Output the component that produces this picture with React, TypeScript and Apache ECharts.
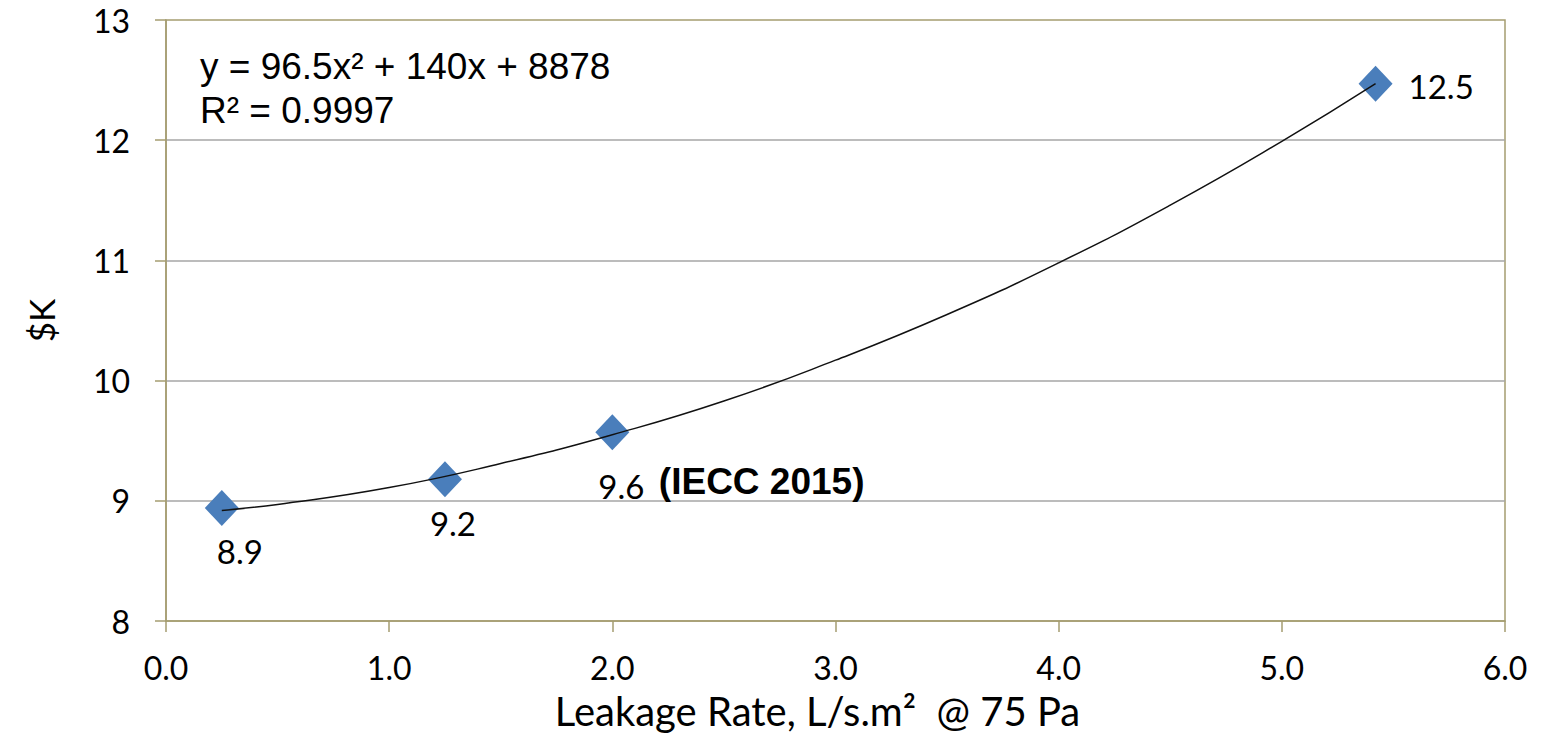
import React, { useEffect, useRef } from "react";
import * as echarts from "echarts";

const leakage = [0.25, 1.25, 2.0, 5.42];
const costK = [8.94, 9.18, 9.57, 12.47];
const pointLabels = ["8.9", "9.2", "9.6", "12.5"];
const trendX = [0.25, 0.5, 1.0, 1.5, 2.0, 2.5, 3.0, 3.5, 4.0, 4.5, 5.0, 5.42];
const trendY = [8.92, 8.97, 9.11, 9.31, 9.55, 9.83, 10.17, 10.55, 10.98, 11.46, 11.99, 12.47];
const equationLines = ["y = 96.5x² + 140x + 8878", "R² = 0.9997"];
const xTitle = "Leakage Rate, L/s.m²  @ 75 Pa";
const yTitle = "$K";

const OLIVE = "#A59D70";
const GRID = "#A6A6A6";
const BLUE = "#4A7EBB";
const LBL = "Lato, 'Open Sans', sans-serif";

export default function App() {
  const ref = useRef<HTMLDivElement>(null);
  useEffect(() => {
    if (!ref.current) return;
    const chart = echarts.init(ref.current, null, { renderer: "svg" });
    const labelCfg = [
      { position: "bottom", distance: 8, offset: [18, 0] },
      { position: "bottom", distance: 9, offset: [8, 0] },
      { position: "bottom", distance: 13, offset: [-14, 0], rich: true },
      { position: "right", distance: 16, offset: [0, 2] },
    ];
    const scatterData = leakage.map((x, i) => {
      const c: any = labelCfg[i];
      const label: any = {
        show: true,
        position: c.position,
        distance: c.distance,
        offset: c.offset,
        fontFamily: LBL,
        fontSize: 33,
        color: "#000",
        opacity: 1,
      };
      if (c.rich) {
        label.align = "left";
        label.formatter = "{a|" + pointLabels[i] + "} {b|(IECC 2015)}";
        label.rich = {
          a: { fontFamily: LBL, fontSize: 33, color: "#000" },
          b: {
            fontFamily: "'Liberation Sans', Arial, sans-serif",
            fontWeight: "bold",
            fontSize: 37,
            color: "#000",
            padding: [0, 0, 8, 6],
          },
        };
      } else {
        label.formatter = pointLabels[i];
      }
      return { value: [x, costK[i]], label };
    });
    chart.setOption({
      animation: false,
      backgroundColor: "#fff",
      grid: { left: 166, right: 36, top: 20, bottom: 125, show: true, borderColor: OLIVE, borderWidth: 1.5 },
      xAxis: {
        type: "value",
        min: 0,
        max: 6,
        interval: 1,
        axisLine: { show: true, lineStyle: { color: OLIVE, width: 1.5 } },
        axisTick: { show: true, length: 11, lineStyle: { color: OLIVE, width: 1.5 } },
        splitLine: { show: false },
        axisLabel: {
          formatter: (v: number) => v.toFixed(1),
          fontFamily: LBL,
          fontSize: 32,
          color: "#000",
          margin: 30,
        },
        name: xTitle,
        nameLocation: "middle",
        nameGap: 70,
        nameTextStyle: { fontFamily: LBL, fontSize: 40, color: "#000", padding: [0, 36, 0, 0] },
      },
      yAxis: {
        type: "value",
        min: 8,
        max: 13,
        interval: 1,
        axisLine: { show: true, lineStyle: { color: OLIVE, width: 1.5 } },
        axisTick: { show: true, length: 11, lineStyle: { color: OLIVE, width: 1.5 } },
        splitLine: { show: true, showMinLine: false, showMaxLine: false, lineStyle: { color: GRID, width: 1.5 } },
        axisLabel: { fontFamily: LBL, fontSize: 32, color: "#000", margin: 36 },
        name: yTitle,
        nameLocation: "middle",
        nameGap: 108,
        nameRotate: 90,
        nameTextStyle: { fontFamily: LBL, fontSize: 35, color: "#000" },
      },
      graphic: [
        {
          type: "text",
          left: 200,
          top: 44,
          style: {
            text: equationLines.join("\n"),
            font: "37px 'Liberation Sans', Arial, sans-serif",
            lineHeight: 44,
            fill: "#000",
          },
        },
      ],
      series: [
        {
          type: "line",
          data: trendX.map((x, i) => [x, trendY[i]]),
          smooth: true,
          showSymbol: false,
          lineStyle: { color: "#111", width: 1.5 },
          z: 3,
          silent: true,
        },
        {
          type: "scatter",
          symbol: "diamond",
          symbolSize: [34, 36],
          itemStyle: { color: BLUE, opacity: 1 },
          data: scatterData,
          z: 2,
        },
      ],
    });
    return () => chart.dispose();
  }, []);
  return (
    <div
      ref={ref}
      style={{ position: "fixed", left: 0, top: 0, width: 1541, height: 746, background: "#fff" }}
    />
  );
}
